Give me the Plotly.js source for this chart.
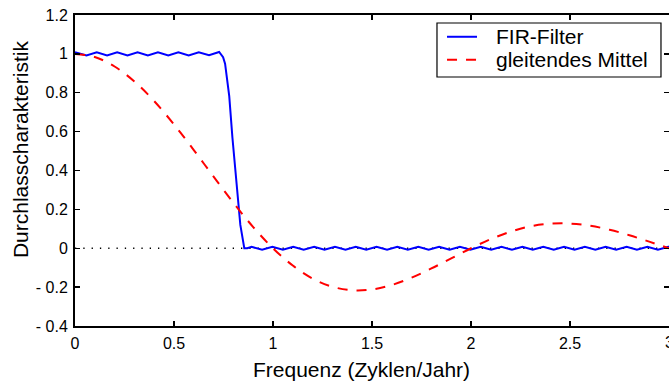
<!DOCTYPE html>
<html>
<head>
<meta charset="utf-8">
<script src="https://cdn.plot.ly/plotly-3.0.1.min.js"></script>
<style>html,body{margin:0;padding:0;background:#fff;}#chart{width:669px;height:381px;}</style>
</head>
<body>
<div id="chart"></div>
<script>
// FIR filter response
const firX = [0, 0.058, 0.110, 0.162, 0.213, 0.265, 0.316, 0.368, 0.419, 0.471, 0.522, 0.574, 0.625, 0.677, 0.728, 0.748, 0.758, 0.779, 0.795, 0.825, 0.835, 0.855, 0.870,
  0.892, 0.945, 0.997, 1.050, 1.102, 1.155, 1.208, 1.260, 1.313, 1.366, 1.418, 1.471, 1.523, 1.576, 1.628, 1.681, 1.734, 1.786, 1.839, 1.892, 1.944, 1.997,
  2.049, 2.102, 2.154, 2.207, 2.260, 2.312, 2.365, 2.418, 2.470, 2.523, 2.575, 2.628, 2.680, 2.733, 2.786, 2.838, 2.891, 2.944, 2.996, 3.0];
const firY = [1.008, 0.992, 1.008, 0.992, 1.008, 0.992, 1.008, 0.992, 1.008, 0.992, 1.008, 0.992, 1.008, 0.993, 1.010, 0.983, 0.950, 0.783, 0.570, 0.210, 0.120, 0.000, 0.000,
  0.007, -0.008, 0.008, -0.008, 0.008, -0.008, 0.008, -0.008, 0.008, -0.008, 0.008, -0.008, 0.008, -0.008, 0.008, -0.008, 0.008, -0.008, 0.008, -0.008, 0.008, -0.008,
  0.008, -0.008, 0.008, -0.008, 0.008, -0.008, 0.008, -0.008, 0.008, -0.008, 0.008, -0.008, 0.008, -0.008, 0.008, -0.008, 0.008, -0.008, 0.008, 0.007];
// moving average response
const maX = [0, 0.1, 0.2, 0.3, 0.4, 0.5, 0.6, 0.7, 0.8, 0.9, 1.0, 1.1, 1.2, 1.3, 1.4, 1.5, 1.6, 1.7, 1.8, 1.9, 2.0, 2.1, 2.2, 2.3, 2.4, 2.5, 2.6, 2.7, 2.8, 2.9, 3.0];
const maY = [1.0, 0.984, 0.935, 0.858, 0.757, 0.637, 0.505, 0.368, 0.234, 0.109, 0.0, -0.089, -0.156, -0.198, -0.216, -0.212, -0.189, -0.151, -0.104, -0.052, 0.0, 0.047, 0.085, 0.113, 0.126, 0.127, 0.116, 0.095, 0.067, 0.034, 0.0];
const zeroX = [0, 3];
const zeroY = [0, 0];
const xTickVals = [0, 0.5, 1, 1.5, 2, 2.5, 3];
const xTickText = ["0", "0.5", "1", "1.5", "2", "2.5", "3"];
const yTickVals = [-0.4, -0.2, 0, 0.2, 0.4, 0.6, 0.8, 1, 1.2];
const yTickText = ["- 0.4", "- 0.2", "0", "0.2", "0.4", "0.6", "0.8", "1", "1.2"];
const names = ["FIR-Filter", "gleitendes Mittel"];
const colors = ["#0000ff", "#ff0000"];
const dashes = ["solid", "10px,9px"];
const xTitle = "Frequenz (Zyklen/Jahr)";
const yTitle = "Durchlasscharakteristik";

const FONT = "Liberation Sans, Arial, Helvetica, sans-serif";

const traces = [
  {x: zeroX, y: zeroY, mode: "lines", showlegend: false, hoverinfo: "skip",
   line: {color: "#000", width: 1.3, dash: "1.3px,7px"}},
  {x: firX, y: firY, mode: "lines", name: names[0], showlegend: false,
   line: {color: colors[0], width: 2}},
  {x: maX, y: maY, mode: "lines", name: names[1], showlegend: false,
   line: {color: colors[1], width: 2, dash: dashes[1], shape: "spline"}}
];

const axisCommon = {
  showgrid: false, zeroline: false, showline: true, linecolor: "#000", linewidth: 2,
  mirror: "ticks", ticks: "inside", ticklen: 5, tickwidth: 1.3, tickcolor: "#000",
  tickfont: {family: FONT, size: 16, color: "#000"}, tickmode: "array"
};

// legend box drawn with shapes/annotations (paper coordinates)
const legBox = {x0: 0.6094, x1: 0.9865, y0: 0.8006, y1: 0.9743};
const legRowsY = [0.930, 0.856];
const legLineX = [0.6263, 0.6768];
const legTextX = 0.7054;

const shapes = [
  {type: "rect", xref: "paper", yref: "paper", x0: legBox.x0, x1: legBox.x1, y0: legBox.y0, y1: legBox.y1,
   line: {color: "#000", width: 1.2}, fillcolor: "#fff", layer: "above"}
];
const annotations = [
  {text: xTitle, xref: "x", yref: "paper", x: 1.445, y: 0, yshift: -30, xanchor: "center", yanchor: "top",
   showarrow: false, font: {family: FONT, size: 21, color: "#000"}},
  {text: yTitle, xref: "paper", yref: "y", x: 0, xshift: -55, y: 0.51, xanchor: "center", yanchor: "middle",
   textangle: -90, showarrow: false, font: {family: FONT, size: 21, color: "#000"}},
  {text: xTickText[6], xref: "x", yref: "paper", x: xTickVals[6], y: 0, yshift: -6, xanchor: "center", yanchor: "top",
   showarrow: false, font: {family: FONT, size: 16, color: "#000"}}
];
names.forEach((n, i) => {
  shapes.push({type: "line", xref: "paper", yref: "paper", x0: legLineX[0], x1: legLineX[1], y0: legRowsY[i], y1: legRowsY[i],
    line: {color: colors[i], width: 2, dash: dashes[i]}, layer: "above"});
  annotations.push({text: n, xref: "paper", yref: "paper", x: legTextX, y: legRowsY[i], xanchor: "left", yanchor: "middle",
    showarrow: false, font: {family: FONT, size: 21, color: "#000"}});
});

const layout = {
  width: 669, height: 381,
  margin: {l: 75, r: 0, t: 15, b: 55},
  paper_bgcolor: "#fff", plot_bgcolor: "#fff",
  font: {family: FONT, color: "#000"},
  xaxis: Object.assign({}, axisCommon, {range: [0, 3], tickvals: xTickVals, ticktext: xTickText, ticklabelstandoff: 2}),
  yaxis: Object.assign({}, axisCommon, {range: [-0.4, 1.2], tickvals: yTickVals, ticktext: yTickText, ticklabelstandoff: 2}),
  shapes: shapes,
  annotations: annotations,
  showlegend: false
};

Plotly.newPlot("chart", traces, layout, {displayModeBar: false, staticPlot: true});
</script>
</body>
</html>
